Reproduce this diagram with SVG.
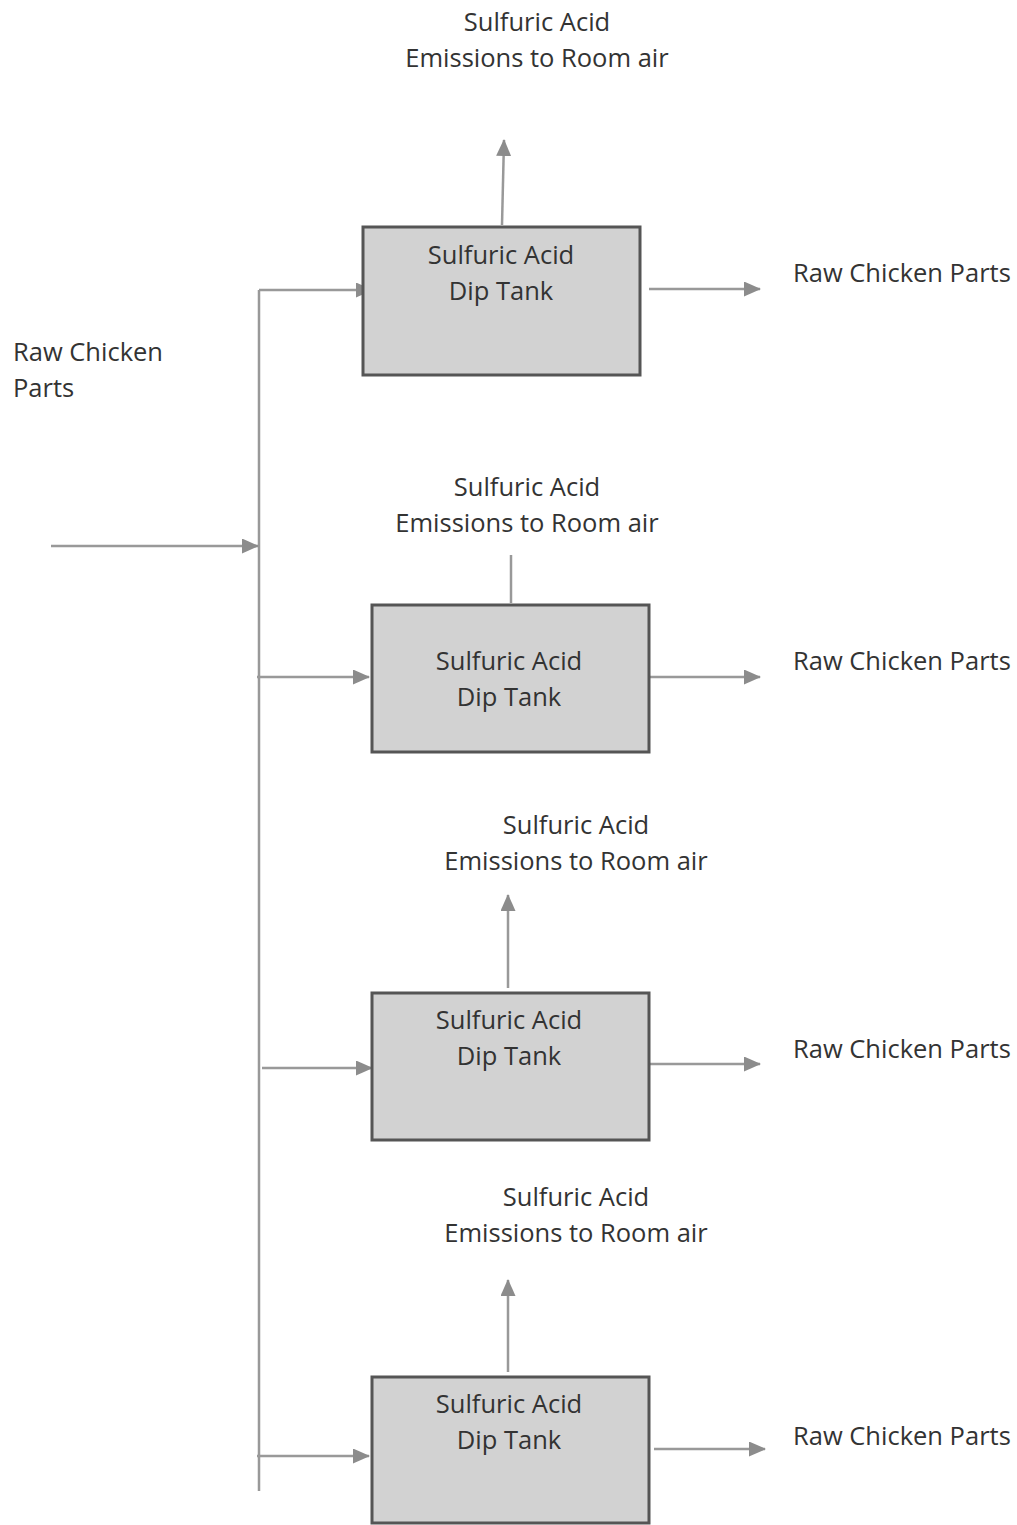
<svg xmlns="http://www.w3.org/2000/svg" width="1017" height="1525" viewBox="0 0 1017 1525">
<defs>
<marker id="ah" viewBox="0 0 17 15" refX="16" refY="7.5" markerWidth="17" markerHeight="15" markerUnits="userSpaceOnUse" orient="auto">
<path d="M0,0 L17,7.5 L0,15 Z" fill="#8c8c8c"/>
</marker>
</defs>
<style>
.t{font-family:"Open Sans","Liberation Sans",sans-serif;font-size:25.5px;fill:#333;}
.c{text-anchor:middle;}
.box{fill:#d2d2d2;stroke:#555;stroke-width:3;}
.ln{stroke:#999;stroke-width:2.5;fill:none;}
.ar{stroke:#999;stroke-width:2.5;fill:none;marker-end:url(#ah);}
</style>
<rect width="1017" height="1525" fill="#fff"/>
<g id="connectors">
<line class="ln" x1="259" y1="290" x2="259" y2="1491"/>
<line class="ar" x1="51" y1="546" x2="258" y2="546"/>
<line class="ar" x1="259" y1="290" x2="372" y2="290"/>
<line class="ar" x1="257" y1="677" x2="369" y2="677"/>
<line class="ar" x1="262" y1="1068" x2="372" y2="1068"/>
<line class="ar" x1="257" y1="1456" x2="369" y2="1456"/>
<line class="ar" x1="649" y1="289" x2="760" y2="289"/>
<line class="ar" x1="650" y1="677" x2="760" y2="677"/>
<line class="ar" x1="650" y1="1064" x2="760" y2="1064"/>
<line class="ar" x1="654" y1="1449" x2="765" y2="1449"/>
<line class="ar" x1="502" y1="225" x2="504" y2="140"/>
<line class="ln" x1="511" y1="603" x2="511" y2="555"/>
<line class="ar" x1="508" y1="988" x2="508" y2="895"/>
<line class="ar" x1="508" y1="1372" x2="508" y2="1280"/>
</g>
<g id="tank1">
<rect class="box" x="363" y="227" width="277" height="148"/>
<text class="t c" x="501" y="264">Sulfuric Acid</text>
<text class="t c" x="501" y="300">Dip Tank</text>
</g>
<g id="tank2">
<rect class="box" x="372" y="605" width="277" height="147"/>
<text class="t c" x="509" y="670">Sulfuric Acid</text>
<text class="t c" x="509" y="706">Dip Tank</text>
</g>
<g id="tank3">
<rect class="box" x="372" y="993" width="277" height="147"/>
<text class="t c" x="509" y="1029">Sulfuric Acid</text>
<text class="t c" x="509" y="1065">Dip Tank</text>
</g>
<g id="tank4">
<rect class="box" x="372" y="1377" width="277" height="146"/>
<text class="t c" x="509" y="1413">Sulfuric Acid</text>
<text class="t c" x="509" y="1449">Dip Tank</text>
</g>
<g id="emission1">
<text class="t c" x="537" y="31">Sulfuric Acid</text>
<text class="t c" x="537" y="67">Emissions to Room air</text>
</g>
<g id="emission2">
<text class="t c" x="527" y="496">Sulfuric Acid</text>
<text class="t c" x="527" y="532">Emissions to Room air</text>
</g>
<g id="emission3">
<text class="t c" x="576" y="834">Sulfuric Acid</text>
<text class="t c" x="576" y="870">Emissions to Room air</text>
</g>
<g id="emission4">
<text class="t c" x="576" y="1206">Sulfuric Acid</text>
<text class="t c" x="576" y="1242">Emissions to Room air</text>
</g>
<g id="input">
<text class="t" x="13" y="361">Raw Chicken</text>
<text class="t" x="13" y="397">Parts</text>
</g>
<g id="output1"><text class="t" x="793" y="282">Raw Chicken Parts</text></g>
<g id="output2"><text class="t" x="793" y="670">Raw Chicken Parts</text></g>
<g id="output3"><text class="t" x="793" y="1058">Raw Chicken Parts</text></g>
<g id="output4"><text class="t" x="793" y="1445">Raw Chicken Parts</text></g>
</svg>
